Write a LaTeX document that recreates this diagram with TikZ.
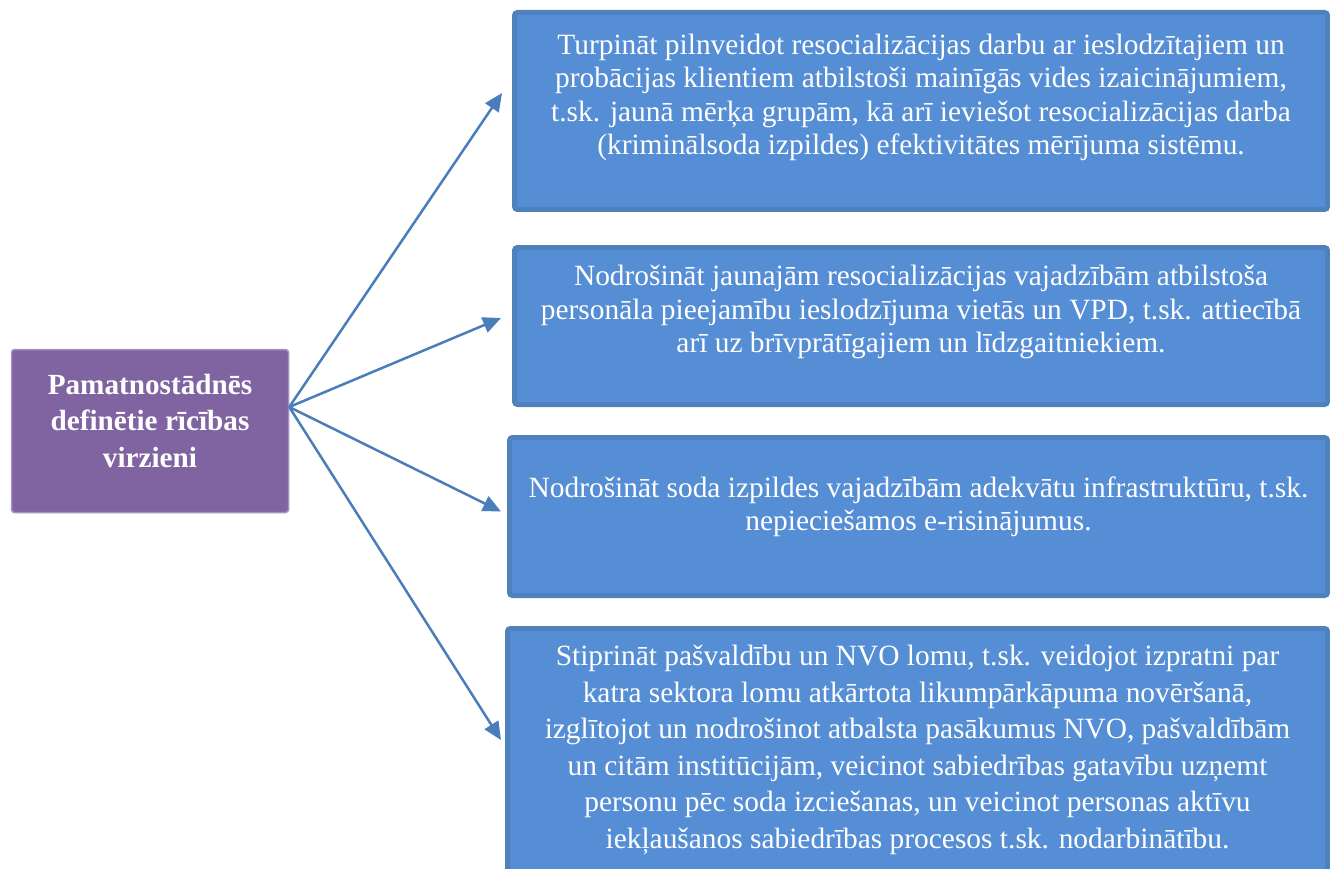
\documentclass[tikz,border=0pt]{standalone}
\usepackage{fontspec}
\setmainfont{Liberation Serif}
\usetikzlibrary{positioning,arrows.meta}
\definecolor{boxblue}{RGB}{85,142,213}
\definecolor{boxedge}{RGB}{79,129,189}
\definecolor{arrblue}{RGB}{74,126,187}
\definecolor{mainviolet}{RGB}{128,100,162}
\definecolor{violetedge}{RGB}{165,145,195}

\begin{document}
\begin{tikzpicture}[x=1pt,y=-1pt,
	goal/.style={draw=boxedge,line width=5pt,fill=boxblue,text=white,align=center,rounded corners=3pt,inner sep=0pt,font=\fontsize{29.4}{33.5}\selectfont},
	arr/.style={-{Triangle[length=18pt,width=16pt]},draw=arrblue,line width=2.5pt}]
		\useasboundingbox (0,0) rectangle (1330,869);
		\clip (0,0) rectangle (1330,869);
		\fill[white] (0,0) rectangle (1330,869);
		
		\node[draw=violetedge,line width=1.5pt,fill=mainviolet,rounded corners=3pt,minimum width=277pt,minimum height=163pt,text=white,align=center,font=\bfseries\fontsize{29.2}{36.5}\selectfont] (main) at (150,431) {Pamatnostādnēs\\definētie rīcības\\virzieni\\[-16pt]\mbox{}};
		
		\node[goal,minimum width=813pt,minimum height=197pt] (b1) at (921,111) {Turpināt pilnveidot resocializācijas darbu ar ieslodzītajiem un\\probācijas klientiem atbilstoši mainīgās vides izaicinājumiem,\\t.sk. jaunā mērķa grupām, kā arī ieviešot resocializācijas darba\\(kriminālsoda izpildes) efektivitātes mērījuma sistēmu.\\\mbox{}};
		\node[goal,minimum width=813pt,minimum height=157pt] (b2) at (921,326) {Nodrošināt jaunajām resocializācijas vajadzībām atbilstoša\\personāla pieejamību ieslodzījuma vietās un VPD, t.sk. attiecībā\\arī uz brīvprātīgajiem un līdzgaitniekiem.\\\mbox{}};
		\node[goal,minimum width=818pt,minimum height=158pt] (b3) at (918.5,516.5) {Nodrošināt soda izpildes vajadzībām adekvātu infrastruktūru, t.sk.\\nepieciešamos e-risinājumus.\\[-8pt]\mbox{}};
		\node[goal,minimum width=820pt,minimum height=243pt,font=\fontsize{29.4}{36.5}\selectfont] (b4) at (917.5,750) {Stiprināt pašvaldību un NVO lomu, t.sk. veidojot izpratni par\\katra sektora lomu atkārtota likumpārkāpuma novēršanā,\\izglītojot un nodrošinot atbalsta pasākumus NVO, pašvaldībām\\un citām institūcijām, veicinot sabiedrības gatavību uzņemt\\personu pēc soda izciešanas, un veicinot personas aktīvu\\iekļaušanos sabiedrības procesos t.sk. nodarbinātību.};
		
		\draw[arr] ([yshift=24pt]main.east)--([xshift=-10pt,yshift=18pt]b1.west);
		\draw[arr] ([yshift=24pt]main.east)--([xshift=-11pt,yshift=8pt]b2.west);
		\draw[arr] ([yshift=24pt]main.east)--([xshift=-6pt,yshift=5pt]b3.west);
		\draw[arr] ([yshift=24pt]main.east)--([xshift=-4pt,yshift=10pt]b4.west);
	\end{tikzpicture}
\end{document}
